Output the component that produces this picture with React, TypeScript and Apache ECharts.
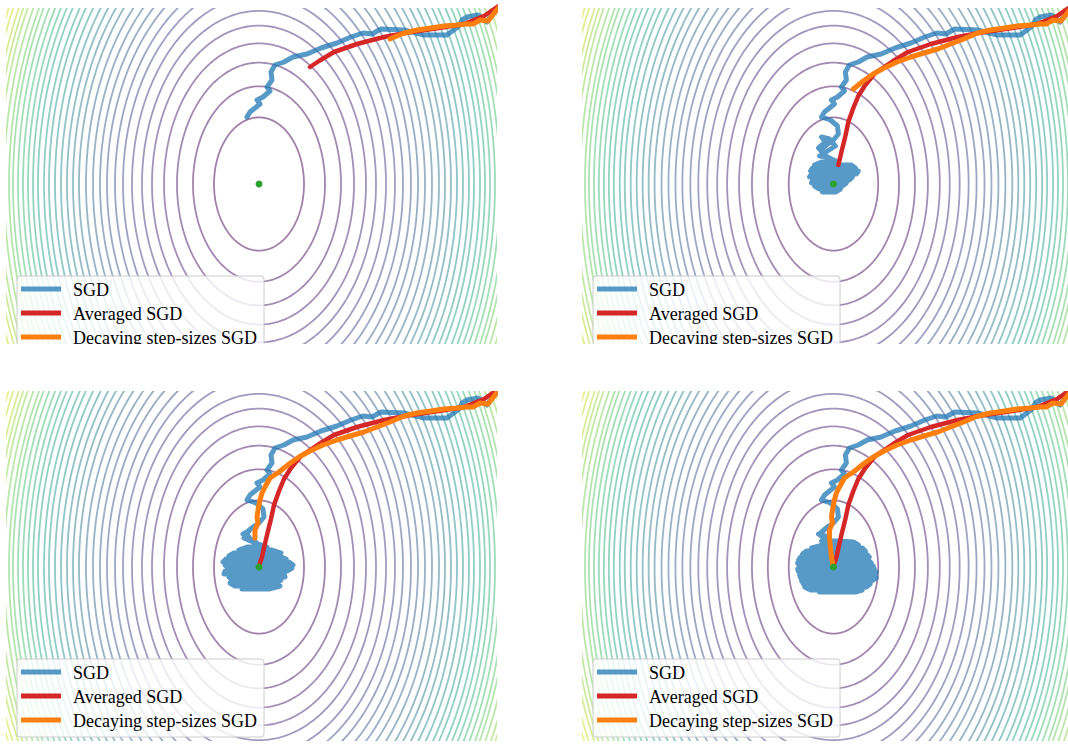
import React, { useEffect, useRef } from "react";
import * as echarts from "echarts";

// ---------- data (units ≈ pixels, optimum at the origin, y upward) ----------
const contourRadii = [45, 66, 82, 95, 107, 117, 127, 136, 144, 152, 159, 166, 173, 180, 186, 192, 198, 204, 210, 215, 221, 226, 231, 236, 241, 246, 250, 255, 260, 264, 268, 273, 277];
const ellipseAspect = 1.48;
const xRange = [-252, 236];
const yRange = [-173, 175];

const sgdDescent = [
  [244, 181], [234, 170], [228, 162], [219, 169], [208, 167], [203, 164], [200, 158], [188, 149], [165, 149], [145, 154],
  [122, 155], [113, 150], [104, 151], [92, 147], [78, 141], [62, 136], [48, 130], [34, 127], [25, 122], [16, 119],
  [12, 112], [13, 104], [8, 97], [11, 93], [4, 87], [-2, 84], [1, 80], [-9, 72], [-12, 67],
  [-3, 64], [4, 58], [5, 50], [0, 44], [-6, 40], [-13, 34], [-8, 27], [-2, 24],
];
const sgdBlob2 = [
  [-10, 30], [-15, 36], [-8, 42], [-12, 47], [-4, 45], [2, 38], [-6, 33], [-14, 28], [-6, 27], [-2, 25],
  [5, 22], [-12, 22], [-19, 19], [18, 19], [22, 16], [-21, 16], [-23, 13], [25, 13],
  [23, 10], [-22, 10], [-24, 7], [19, 7], [16, 4], [-21, 4], [-22, 1], [13, 1], [9, -2], [-19, -2], [-14, -5], [7, -5],
  [2, -8], [-11, -8], [-4, 0], [6, 8], [-8, 14], [0, 18],
];
const sgdBlob3 = [
  [-16, 33], [-10, 36], [-15, 29], [-6, 25], [8, 20], [-12, 20], [-20, 17], [13, 17], [22, 14], [-25, 14], [-30, 11], [20, 11],
  [27, 8], [-33, 8], [-36, 5], [30, 5], [34, 2], [-34, 2], [-31, -1], [33, -1], [28, -4], [-34, -4], [-35, -7], [25, -7],
  [26, -10], [-30, -10], [-27, -13], [22, -13], [18, -16], [-29, -16], [-24, -19], [21, -19], [10, -22], [-17, -22],
  [-5, -10], [10, 0], [-10, 8], [0, 14],
];
const sgdBlob4 = [
  [-15, 33], [-5, 30], [-12, 26], [5, 26], [20, 25], [25, 22], [-10, 22], [-22, 19], [29, 19], [32, 16], [-27, 16], [-31, 13],
  [33, 13], [36, 10], [-33, 10], [-35, 7], [35, 7], [38, 4], [-36, 4], [-34, 1], [40, 1], [41, -2], [-36, -2], [-35, -5],
  [43, -5], [42, -8], [-34, -8], [-33, -11], [43, -11], [38, -14], [-32, -14], [-30, -17], [37, -17], [33, -20], [-29, -20],
  [-23, -23], [29, -23], [22, -25], [-14, -25], [0, -12], [15, 0], [-15, 10], [0, 18],
];
const avgPath = [
  [244, 181], [225, 168], [205, 160], [180, 156], [152, 152], [125, 147], [98, 140], [75, 132], [60, 123], [51, 117],
  [42, 111], [32, 99], [25, 88], [20, 76], [15, 62], [12, 48], [8, 32], [5, 19],
  [3, 10], [1, 4], [0, 0],
];
const decayPath = [
  [244, 181], [236, 172], [229, 163], [221, 164], [214, 160], [208, 160], [198, 159], [185, 158], [172, 156], [158, 154], [145, 151], [131, 145],
  [118, 140], [105, 135], [91, 131], [78, 127], [64, 122], [51, 116], [40, 110], [30, 103], [20, 95],
  [11, 89], [6, 80], [3, 74], [1, 67], [-1, 57], [-2, 50], [-1, 44], [-4, 37], [-4, 29],
  [-3, 20], [-2, 10], [0, 0],
];
const optimum = [[0, 0]];

const sgdPanels = [
  sgdDescent.slice(0, 29),
  sgdDescent.concat(sgdBlob2),
  sgdDescent.concat(sgdBlob3),
  sgdDescent.concat(sgdBlob4),
];
const avgCounts = [10, 18, 21, 21];
const decayCounts = [12, 21, 30, 33];

const legendLabels = ["SGD", "Averaged SGD", "Decaying step-sizes SGD"];
const pathColors = ["rgba(31,119,180,0.75)", "#d62728", "#ff7f0e"];

// ---------- layout ----------
const panelOrigins = [[7, 9], [583, 9], [7, 392], [583, 392]];
const panelW = 488;
const panelH = 348;

const viridisStops = ["#440154", "#482475", "#414487", "#355f8d", "#2a788e", "#21918c", "#22a884", "#44bf70", "#7ad151", "#bddf26", "#fde725"];
function hexToRgb(h: string) {
  return [parseInt(h.slice(1, 3), 16), parseInt(h.slice(3, 5), 16), parseInt(h.slice(5, 7), 16)];
}
function viridis(t: number, alpha: number) {
  const tt = Math.max(0, Math.min(1, t)) * (viridisStops.length - 1);
  const i = Math.min(Math.floor(tt), viridisStops.length - 2);
  const f = tt - i;
  const a = hexToRgb(viridisStops[i]);
  const b = hexToRgb(viridisStops[i + 1]);
  const c = a.map((v, k) => Math.round(v + (b[k] - v) * f));
  return `rgba(${c[0]},${c[1]},${c[2]},${alpha})`;
}

export default function App() {
  const ref = useRef<HTMLDivElement>(null);
  useEffect(() => {
    if (!ref.current) return;
    const chart = echarts.init(ref.current, undefined, { renderer: "svg" });
    const grids: any[] = [];
    const xAxes: any[] = [];
    const yAxes: any[] = [];
    const series: any[] = [];
    const graphics: any[] = [];

    panelOrigins.forEach(([ox, oy], p) => {
      grids.push({ left: ox, top: oy, width: panelW, height: panelH, containLabel: false });
      xAxes.push({ type: "value", gridIndex: p, min: xRange[0], max: xRange[1], show: false });
      yAxes.push({ type: "value", gridIndex: p, min: yRange[0], max: yRange[1], show: false });

      contourRadii.forEach((r, i) => {
        const pts: number[][] = [];
        const n = 240;
        for (let a = 0; a <= n; a++) {
          const th = (a / n) * Math.PI * 2;
          pts.push([r * Math.cos(th), ellipseAspect * r * Math.sin(th)]);
        }
        series.push({
          type: "line", xAxisIndex: p, yAxisIndex: p, data: pts, symbol: "none", showSymbol: false,
          silent: true, clip: true, z: 1,
          lineStyle: { color: viridis(i / 34, 0.5), width: 1.8 },
        });
      });

      const paths = [sgdPanels[p], avgPath.slice(0, avgCounts[p]), decayPath.slice(0, decayCounts[p])];
      const widths = [5, 4.5, 5];
      paths.forEach((d, k) => {
        series.push({
          type: "line", name: legendLabels[k], xAxisIndex: p, yAxisIndex: p, data: d,
          symbol: "none", showSymbol: false, silent: true, clip: false, z: 3 + k,
          lineStyle: { color: pathColors[k], width: widths[k], cap: "round", join: "round" },
        });
      });
      series.push({
        type: "scatter", xAxisIndex: p, yAxisIndex: p, data: optimum, symbolSize: 7, z: 8, silent: true,
        itemStyle: { color: "#2ca02c", opacity: 1 },
      });

      // legend box
      const bx = ox + 10;
      const by = oy + 267;
      graphics.push({
        type: "rect", z: 50, silent: true,
        shape: { x: bx, y: by, width: 247, height: 78, r: 3 },
        style: { fill: "rgba(255,255,255,0.8)", stroke: "#cccccc", lineWidth: 1 },
      });
      legendLabels.forEach((lab, k) => {
        const yy = oy + 280 + 24 * k;
        graphics.push({
          type: "line", z: 51, silent: true,
          shape: { x1: ox + 14, y1: yy, x2: ox + 54, y2: yy },
          style: { stroke: pathColors[k], lineWidth: 5 },
        });
        graphics.push({
          type: "text", z: 51, silent: true, x: ox + 66, y: yy + 1,
          style: { text: lab, fill: "#000", font: '18px "Liberation Serif"', textVerticalAlign: "middle", textAlign: "left" },
        });
      });
    });

    // the upper row is cut off by the lower row
    graphics.push({
      type: "rect", z: 100, silent: true,
      shape: { x: 0, y: 344, width: 1068, height: 47 },
      style: { fill: "#ffffff" },
    });

    chart.setOption({
      animation: false,
      backgroundColor: "#ffffff",
      grid: grids,
      xAxis: xAxes,
      yAxis: yAxes,
      series,
      graphic: graphics,
    });
    return () => chart.dispose();
  }, []);
  return <div ref={ref} style={{ position: "absolute", left: 0, top: 0, width: 1068, height: 744 }} />;
}
